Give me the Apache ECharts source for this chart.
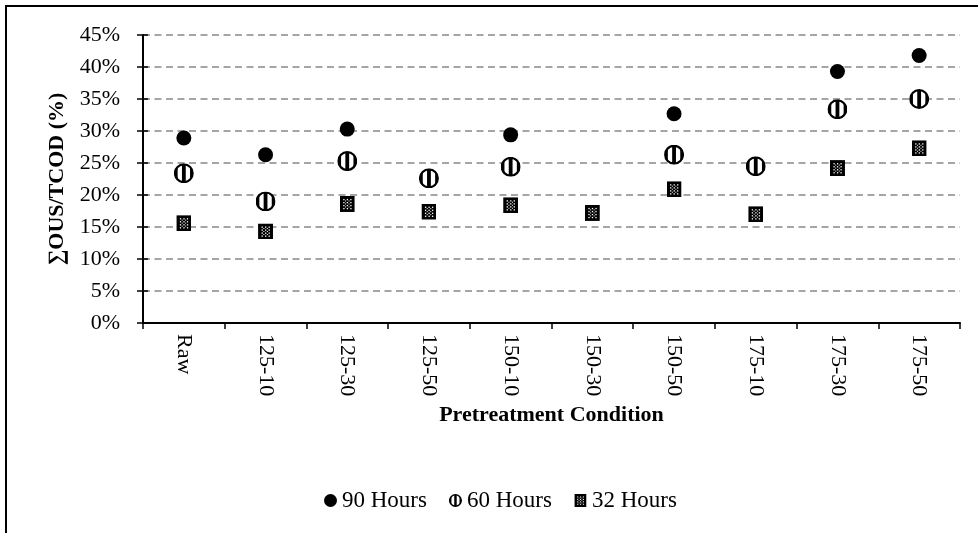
<!DOCTYPE html>
<html>
<head>
<meta charset="utf-8">
<script src="https://cdn.jsdelivr.net/npm/echarts@6/dist/echarts.min.js"></script>
<style>
html,body{margin:0;padding:0;background:#fff;}
#wrap{position:relative;width:978px;height:533px;overflow:hidden;}
#chart{position:absolute;left:0;top:0;width:978px;height:533px;}
#frame{position:absolute;left:5px;top:5px;width:1200px;height:800px;border-left:2px solid #000;border-top:2px solid #000;pointer-events:none;}
</style>
</head>
<body>
<div id="wrap"><div id="chart"></div><div id="frame"></div></div>
<script>
// ---- data ----
var categories = ['Raw','125-10','125-30','125-50','150-10','150-30','150-50','175-10','175-30','175-50'];
var h90 = [28.9, 26.3, 30.3, null, 29.4, null, 32.7, null, 39.3, 41.8];
var h60 = [23.4, 19.0, 25.3, 22.6, 24.4, null, 26.3, 24.5, 33.4, 35.0];
var h32 = [15.6, 14.3, 18.6, 17.4, 18.4, 17.2, 20.9, 17.0, 24.2, 27.3];
var seriesNames = ['90 Hours','60 Hours','32 Hours'];
var yTicks = [0,5,10,15,20,25,30,35,40,45];

// ---- symbols ----
function svgUri(s){ return 'image://data:image/svg+xml;charset=utf-8,' + encodeURIComponent(s); }
var stripedCircle = svgUri(
 '<svg xmlns="http://www.w3.org/2000/svg" width="40" height="40" viewBox="0 0 20 20">' +
 '<defs><clipPath id="c"><circle cx="10" cy="10" r="9"/></clipPath></defs>' +
 '<circle cx="10" cy="10" r="9" fill="#fff"/>' +
 '<g clip-path="url(#c)" fill="#000"><rect x="0" y="0" width="3.8" height="20"/><rect x="8.1" y="0" width="3.8" height="20"/><rect x="16.2" y="0" width="3.8" height="20"/></g>' +
 '<circle cx="10" cy="10" r="8.9" fill="none" stroke="#000" stroke-width="2.2"/></svg>');
var dotted = '<svg xmlns="http://www.w3.org/2000/svg" width="30" height="32" viewBox="0 0 15 16"><rect x="0" y="0" width="15" height="16" fill="#000"/>';
[3.5,7,10.5].forEach(function(x){ [3,6,9,12].forEach(function(y){ dotted += '<rect x="'+x+'" y="'+y+'" width="1.3" height="1.3" fill="#fff"/>'; }); });
[5.3,8.8].forEach(function(x){ [4.5,7.5,10.5].forEach(function(y){ dotted += '<rect x="'+x+'" y="'+y+'" width="1" height="1" fill="#fff"/>'; }); });
dotted += '</svg>';
var dottedSquare = svgUri(dotted);

var FONT = 'Liberation Serif, "Times New Roman", serif';
var chart = echarts.init(document.getElementById('chart'), null, {renderer:'canvas'});
chart.setOption({
  animation:false,
  backgroundColor:'#fff',
  grid:{left:143, right:18, top:35, bottom:210, containLabel:false},
  legend:{
    left:319, top:484, itemWidth:13, itemHeight:13, itemGap:22,
    textStyle:{fontFamily:FONT, fontSize:23, color:'#000'},
    data:seriesNames
  },
  xAxis:{
    type:'category', data:categories, boundaryGap:true,
    name:'Pretreatment Condition', nameLocation:'middle', nameGap:74,
    nameTextStyle:{fontFamily:FONT, fontSize:22, fontWeight:'bold', color:'#000'},
    axisLine:{lineStyle:{color:'#000', width:2}},
    axisTick:{show:true, interval:0, length:6, lineStyle:{color:'#000', width:1.5}},
    axisLabel:{rotate:-90, interval:0, margin:11, fontFamily:FONT, fontSize:22, color:'#000'},
    splitLine:{show:false}
  },
  yAxis:[{
    type:'value', min:yTicks[0], max:yTicks[yTicks.length-1], interval:5,
    name:'\u2211OUS/TCOD (%)', nameLocation:'middle', nameGap:72,
    nameTextStyle:{fontFamily:FONT, fontSize:22, fontWeight:'bold', color:'#000'},
    axisLine:{show:true, lineStyle:{color:'#000', width:2}},
    axisTick:{show:true, length:6, lineStyle:{color:'#000', width:1.5}},
    axisLabel:{margin:23, fontFamily:FONT, fontSize:22, color:'#000', formatter:'{value}%'},
    splitLine:{show:true, lineStyle:{color:'#888', width:1.6, type:[7,4.5]}}
  },{
    type:'value', min:yTicks[0], max:yTicks[yTicks.length-1], interval:5, position:'left',
    axisLine:{show:false},
    axisTick:{show:true, inside:true, length:5, lineStyle:{color:'#000', width:1.5}},
    axisLabel:{show:false}, splitLine:{show:false}
  }],
  series:[
    {name:seriesNames[0], type:'scatter', data:h90, symbol:'circle', symbolSize:15, itemStyle:{color:'#000', opacity:1}, z:3},
    {name:seriesNames[1], type:'scatter', data:h60, symbol:stripedCircle, symbolSize:20, itemStyle:{color:'#000', opacity:1}, z:3},
    {name:seriesNames[2], type:'scatter', data:h32, symbol:dottedSquare, symbolSize:[15,16], itemStyle:{color:'#000', opacity:1}, z:3}
  ]
});
</script>
</body>
</html>
